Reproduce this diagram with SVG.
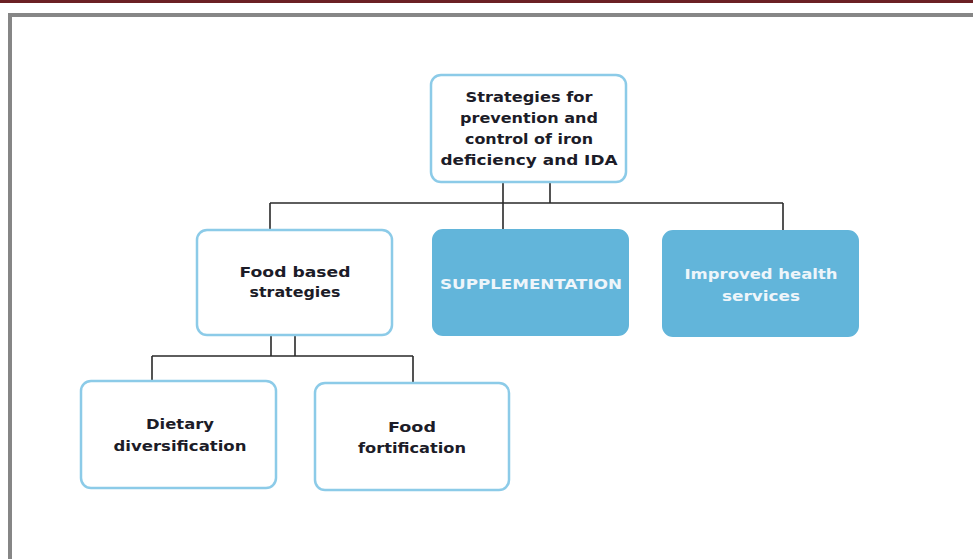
<svg xmlns="http://www.w3.org/2000/svg" width="973" height="559" viewBox="0 0 973 559">
<style>
.box{fill:#fff;stroke:#8ccbe8;stroke-width:2.5}
.fill{fill:#62b5da;stroke:#62b5da;stroke-width:2}
.t{font-family:"DejaVu Sans",Verdana,sans-serif;font-weight:bold;font-size:14px;fill:#1c1c28;text-anchor:middle}
.w{fill:#eef5fa}
.c{fill:none;stroke:#2a2a2a;stroke-width:1.6}
</style>
<rect x="0" y="0" width="973" height="559" fill="#fff"/>
<rect x="0" y="0" width="973" height="3" fill="#6b2024"/>
<path d="M10 559 V15 H973" fill="none" stroke="#868686" stroke-width="4"/>
<g id="connectors">
<path class="c" d="M503 182 V230 M550 182 V203 M270 203 H783 M270 203 V230 M783 203 V231"/>
<path class="c" d="M271 335 V356 M295 335 V356 M152 356 H413 M152 356 V381 M413 356 V383"/>
</g>
<g id="root">
<rect class="box" x="431" y="75" width="195" height="107" rx="10"/>
<text class="t" x="529" y="102" textLength="127" lengthAdjust="spacingAndGlyphs">Strategies for</text>
<text class="t" x="529" y="123" textLength="138" lengthAdjust="spacingAndGlyphs">prevention and</text>
<text class="t" x="529" y="144" textLength="128" lengthAdjust="spacingAndGlyphs">control of iron</text>
<text class="t" x="529" y="165" textLength="177" lengthAdjust="spacingAndGlyphs">deficiency and IDA</text>
</g>
<g id="food">
<rect class="box" x="197" y="230" width="195" height="105" rx="10"/>
<text class="t" x="295" y="277" textLength="111" lengthAdjust="spacingAndGlyphs">Food based</text>
<text class="t" x="295" y="297" textLength="91" lengthAdjust="spacingAndGlyphs">strategies</text>
</g>
<g id="supp">
<rect class="fill" x="433" y="230" width="195" height="105" rx="10"/>
<text class="t w" x="531" y="289" textLength="182" lengthAdjust="spacingAndGlyphs">SUPPLEMENTATION</text>
</g>
<g id="health">
<rect class="fill" x="663" y="231" width="195" height="105" rx="10"/>
<text class="t w" x="761" y="279" textLength="153" lengthAdjust="spacingAndGlyphs">Improved health</text>
<text class="t w" x="761" y="301" textLength="78" lengthAdjust="spacingAndGlyphs">services</text>
</g>
<g id="diet">
<rect class="box" x="81" y="381" width="195" height="107" rx="10"/>
<text class="t" x="180" y="429" textLength="68" lengthAdjust="spacingAndGlyphs">Dietary</text>
<text class="t" x="180" y="451" textLength="133" lengthAdjust="spacingAndGlyphs">diversification</text>
</g>
<g id="fort">
<rect class="box" x="315" y="383" width="194" height="107" rx="10"/>
<text class="t" x="412" y="432" textLength="48" lengthAdjust="spacingAndGlyphs">Food</text>
<text class="t" x="412" y="453" textLength="108" lengthAdjust="spacingAndGlyphs">fortification</text>
</g>
</svg>
